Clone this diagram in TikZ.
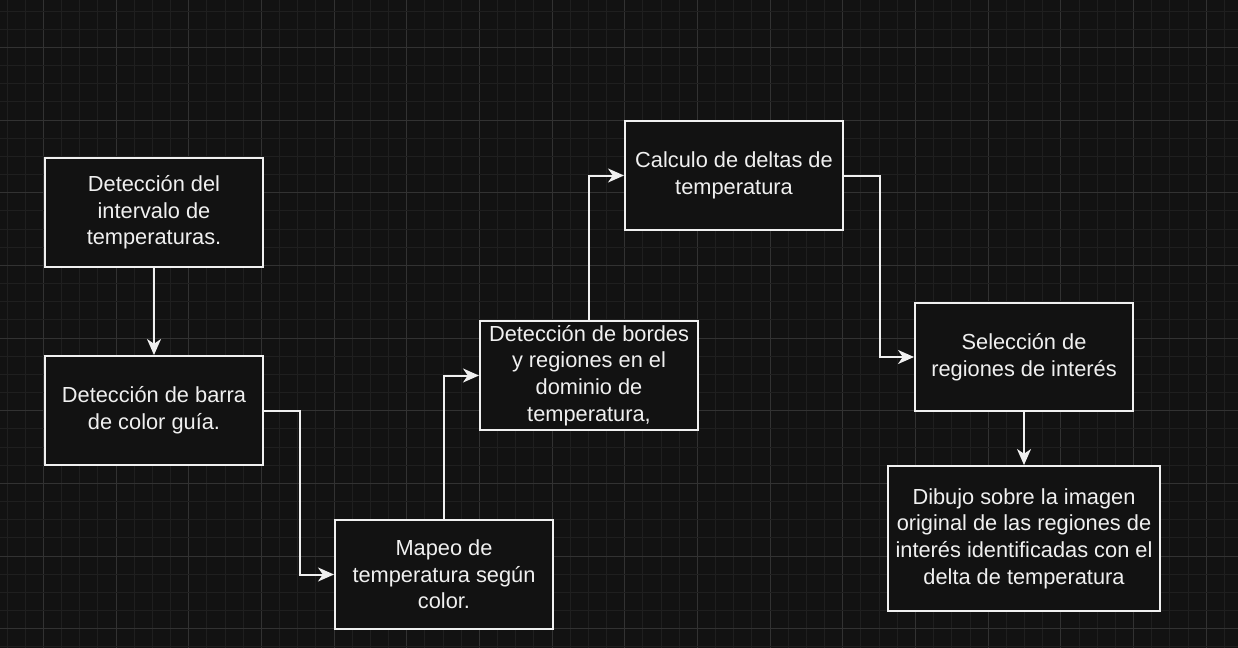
\documentclass[tikz,border=0pt]{standalone}
\usepackage{fontspec}
\setmainfont{Liberation Sans}
\usetikzlibrary{arrows.meta}
\definecolor{bg}{RGB}{18,18,18}
\definecolor{fg}{RGB}{240,240,240}
\definecolor{gridminor}{RGB}{31,31,31}
\definecolor{gridmajor}{RGB}{50,50,50}
\begin{document}
\begin{tikzpicture}[x=0.5pt,y=-0.5pt,
  box/.style={draw=fg, fill=bg, line width=1pt, minimum width=109pt, minimum height=54.5pt,
    inner sep=0pt, align=center, text=fg, font=\fontsize{10.9}{13.3}\selectfont},
  conn/.style={draw=fg, line width=1pt, -{Stealth[length=8pt,width=7pt,inset=2.4pt]}},
  minorline/.style={draw=gridminor, line width=0.5pt},
  majorline/.style={draw=gridmajor, line width=0.5pt}]
\useasboundingbox (0,0) rectangle (1238,648);
\fill[bg] (0,0) rectangle (1238,648);
\foreach \i in {0,...,68}{
  \pgfmathtruncatemacro\m{mod(\i,4)}
  \ifnum\m=2
    \draw[majorline] (7+18.17*\i,0) -- (7+18.17*\i,648);
  \else
    \draw[minorline] (7+18.17*\i,0) -- (7+18.17*\i,648);
  \fi
}
\foreach \j in {0,...,36}{
  \pgfmathtruncatemacro\m{mod(\j,4)}
  \ifnum\m=2
    \draw[majorline] (0,11+18.17*\j) -- (1238,11+18.17*\j);
  \else
    \draw[minorline] (0,11+18.17*\j) -- (1238,11+18.17*\j);
  \fi
}
\node[box] (b1) at (154,212.5) {Detección del\\intervalo de\\temperaturas.};
\node[box] (b2) at (154,410.5) {Detección de barra\\de color guía.};
\node[box] (b3) at (444,574.5) {Mapeo de\\temperatura según\\color.};
\node[box] (b4) at (589,375.5) {Detección de bordes\\y regiones en el\\dominio de\\temperatura,};
\node[box] (b5) at (734,175.5) {Calculo de deltas de\\temperatura};
\node[box, minimum height=54pt] (b6) at (1024,357) {Selección de\\regiones de interés};
\node[box, minimum width=136pt, minimum height=72.5pt] (b7) at (1024,538.5) {Dibujo sobre la imagen\\original de las regiones de\\interés identificadas con el\\delta de temperatura};
\draw[conn] (b1.south) -- (b2.north);
\draw[conn] (b2.east) -- ++(36,0) |- (b3.west);
\draw[conn] (b3.north) |- (b4.west);
\draw[conn] (b4.north) |- (b5.west);
\draw[conn] (b5.east) -- ++(36,0) |- (b6.west);
\draw[conn] (b6.south) -- (b7.north);
\end{tikzpicture}
\end{document}
